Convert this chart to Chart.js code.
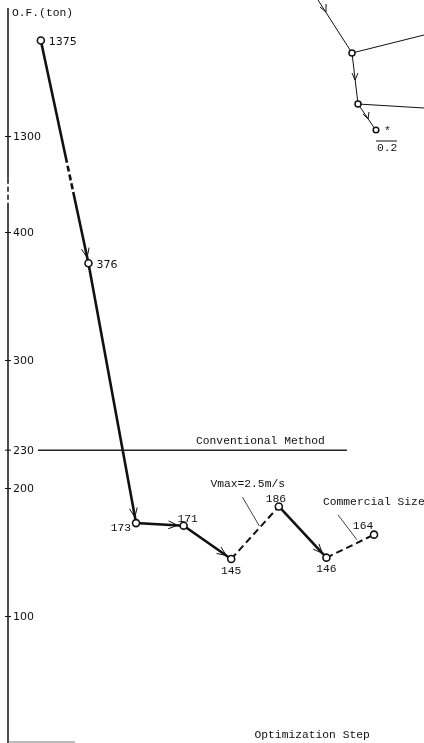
<!DOCTYPE html>
<html>
<head>
<meta charset="utf-8">
<style>
  html, body { margin: 0; padding: 0; background: #fff; }
  canvas { display: block; }
</style>
<script src="https://cdn.jsdelivr.net/npm/chart.js@4.4.0/dist/chart.umd.min.js"></script>
</head>
<body>
<canvas id="myChartLine" width="424" height="743"></canvas>
<script>
// data
var steps = [0, 1, 2, 3, 4, 5, 6, 7];
var ofValues = [1375, 376, 173, 171, 145, 186, 146, 164];
var tickValues = [1300, 400, 300, 230, 200, 100];
var conventional = 230;
var dashedFrom = [4, 6];          // segments 145->186 and 146->164 are dashed

// broken axis: everything above 400 is pulled down by 825
var breakAt = 400, breakShift = 825;
function toAxis(v) { return v > breakAt ? v - breakShift : v; }

var mono = '11.3px "Liberation Mono", monospace';
var sans = '11px "DejaVu Sans", sans-serif';

// label offsets per point: [dx, dy, align, font]
var labelPos = [
  [8, 2, 'left', sans], [8, 2, 'left', sans], [-5, 5, 'right', mono], [4, -7, 'center', mono],
  [0, 12, 'center', mono], [-3, -7, 'center', mono], [0, 11, 'center', mono], [-11, -9, 'center', mono]
];

var decor = {
  id: 'decor',
  afterDatasetsDraw: function (chart) {
    var c = chart.ctx, xs = chart.scales.x, ys = chart.scales.y, area = chart.chartArea;
    var pts = chart.getDatasetMeta(0).data;
    c.save();
    c.strokeStyle = '#111';
    c.fillStyle = '#111';
    c.textBaseline = 'middle';

    // y axis with a dashed stretch at the break
    var x0 = area.left;
    var yb1 = ys.getPixelForValue(442), yb2 = ys.getPixelForValue(420);
    c.lineWidth = 1.5;
    c.beginPath();
    c.moveTo(x0, area.top); c.lineTo(x0, yb1);
    c.moveTo(x0, yb2); c.lineTo(x0, 743);
    c.stroke();
    c.setLineDash([5, 3]);
    c.beginPath(); c.moveTo(x0, yb1); c.lineTo(x0, yb2); c.stroke();
    c.setLineDash([]);

    // ticks
    c.lineWidth = 1;
    c.font = sans;
    c.textAlign = 'left';
    tickValues.forEach(function (t) {
      var y = ys.getPixelForValue(toAxis(t));
      c.beginPath(); c.moveTo(x0 - 3, y); c.lineTo(x0 + 3, y); c.stroke();
      c.fillText(String(t), x0 + 5, y + 1);
    });
    c.font = mono;
    c.fillText('O.F.(ton)', x0 + 4, 13);

    // stub of the x axis
    c.strokeStyle = '#777';
    c.beginPath(); c.moveTo(x0, 742); c.lineTo(75, 742); c.stroke();
    c.strokeStyle = '#111';

    // arrowheads on solid segments
    c.lineWidth = 1;
    for (var i = 0; i < pts.length - 1; i++) {
      if (dashedFrom.indexOf(i) >= 0) continue;
      var a = pts[i], b = pts[i + 1];
      var dx = b.x - a.x, dy = b.y - a.y, len = Math.sqrt(dx * dx + dy * dy);
      dx /= len; dy /= len;
      var tx = b.x - dx * 6, ty = b.y - dy * 6;
      var ang = Math.atan2(dy, dx);
      c.beginPath();
      [0.4, -0.4].forEach(function (s) {
        c.moveTo(tx, ty);
        c.lineTo(tx - 10 * Math.cos(ang + s), ty - 10 * Math.sin(ang + s));
      });
      c.stroke();
    }

    // point labels
    pts.forEach(function (p, i) {
      var l = labelPos[i];
      c.font = l[3];
      c.textAlign = l[2];
      c.fillText(String(ofValues[i]), p.x + l[0], p.y + l[1]);
    });

    // conventional method label
    var yc = ys.getPixelForValue(conventional);
    c.font = mono;
    c.textAlign = 'left';
    c.fillText('Conventional Method', xs.getPixelForValue(3.26), yc - 9);

    // Vmax and Commercial Size notes with leaders
    function note(seg, f, text, tdx, tdy, ldx, ldy) {
      var a = pts[seg], b = pts[seg + 1];
      var mx = a.x + (b.x - a.x) * f, my = a.y + (b.y - a.y) * f;
      c.textAlign = 'left';
      c.fillText(text, mx + tdx, my + tdy);
      c.lineWidth = 0.8;
      c.beginPath(); c.moveTo(mx + ldx, my + ldy); c.lineTo(mx + 2, my - 4); c.stroke();
    }
    note(4, 0.55, 'Vmax=2.5m/s', -47, -46, -15, -33);
    note(6, 0.6, 'Commercial Size', -32, -42, -17, -29);

    c.font = mono;
    c.textAlign = 'center';
    c.fillText('Optimization Step', xs.getPixelForValue(5.7), 735);

    // cropped corner of the neighbouring figure (top right)
    c.lineWidth = 1;
    c.beginPath();
    c.moveTo(318, 0); c.lineTo(352, 53);
    c.moveTo(352, 53); c.lineTo(424, 35);
    c.moveTo(352, 53); c.lineTo(358, 104);
    c.moveTo(358, 104); c.lineTo(424, 108);
    c.moveTo(358, 104); c.lineTo(375, 129);
    // arrow marks
    c.moveTo(326, 12); c.lineTo(326, 4); c.moveTo(326, 12); c.lineTo(320, 7);
    c.moveTo(355, 80); c.lineTo(352, 73); c.moveTo(355, 80); c.lineTo(358, 73);
    c.moveTo(368, 119); c.lineTo(363, 114); c.moveTo(368, 119); c.lineTo(369, 112);
    c.stroke();
    c.fillStyle = '#fff';
    c.lineWidth = 1.5;
    [[352, 53, 3], [358, 104, 3], [376, 130, 2.8]].forEach(function (n) {
      c.beginPath(); c.arc(n[0], n[1], n[2], 0, Math.PI * 2); c.fill(); c.stroke();
    });
    c.fillStyle = '#111';
    c.font = mono;
    c.textAlign = 'left';
    c.fillText('*', 384, 131);
    c.fillText('0.2', 377, 148);
    c.lineWidth = 1;
    c.beginPath(); c.moveTo(376, 141); c.lineTo(397, 141); c.stroke();

    c.restore();
  }
};

var ctx = document.getElementById('myChartLine').getContext('2d');
var chart = new Chart(ctx, {
  type: 'line',
  data: {
    datasets: [{
      label: 'O.F.',
      data: steps.map(function (s, i) { return { x: s, y: toAxis(ofValues[i]) }; }),
      borderColor: '#111',
      borderWidth: 2.6,
      pointRadius: 3.5,
      pointBackgroundColor: '#fff',
      pointBorderColor: '#111',
      pointBorderWidth: 1.6,
      segment: {
        borderDash: function (s) {
          if (dashedFrom.indexOf(s.p0DataIndex) >= 0) return [7, 4];
          if (s.p0DataIndex === 0) return [125, 3, 6, 3, 6, 3, 6, 3, 400];
          return undefined;
        },
        borderWidth: function (s) {
          return dashedFrom.indexOf(s.p0DataIndex) >= 0 ? 2 : undefined;
        }
      }
    }, {
      label: 'Conventional Method',
      data: [{ x: -0.06, y: conventional }, { x: 6.43, y: conventional }],
      borderColor: '#222',
      borderWidth: 1.5,
      pointRadius: 0
    }]
  },
  options: {
    responsive: false,
    animation: false,
    layout: { autoPadding: false, padding: { left: 8, top: 8, right: 0, bottom: 1 } },
    plugins: { legend: { display: false }, tooltip: { enabled: false } },
    scales: {
      x: { type: 'linear', display: false, min: -0.69, max: 8.05 },
      y: { type: 'linear', display: false, min: 2, max: 575.4 }
    }
  },
  plugins: [decor]
});
</script>
</body>
</html>
